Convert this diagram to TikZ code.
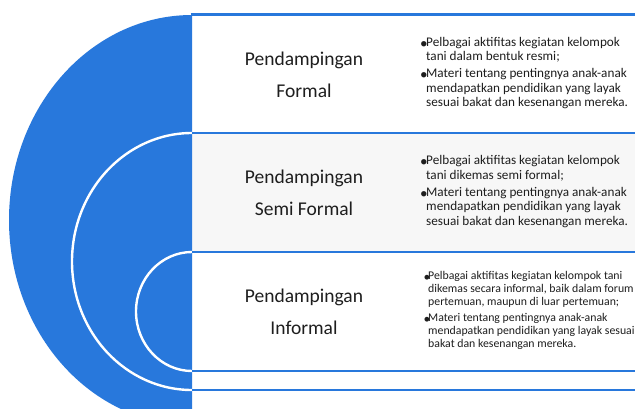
\documentclass[tikz,border=0pt]{standalone}
\usepackage{fontspec}
\setmainfont{Carlito}
\definecolor{band}{HTML}{2878DC}
\definecolor{ink}{HTML}{1E1E1E}
\definecolor{panel}{HTML}{F7F7F7}
\newcommand{\dotmark}{\raisebox{-0.3ex}{\scalebox{1.15}{•}}}
\newcommand{\bul}{\makebox[6pt][l]{\dotmark}}
\newcommand{\cont}{\hspace*{6pt}}
\newcommand{\sbul}{\makebox[4.5pt][l]{\dotmark}}
\newcommand{\scont}{\hspace*{4.5pt}}
\begin{document}
\begin{tikzpicture}[x=1pt,y=-1pt,
  rule/.style={draw=band,line width=2.5pt},
  arcline/.style={draw=white,line width=2.4pt},
  title/.style={font=\fontsize{19.5}{32}\selectfont,text=ink,align=center,inner sep=0pt},
  notes/.style={font=\fontsize{13.2}{14.3}\selectfont,text=ink,align=left,anchor=west,inner sep=0pt},
  smallnotes/.style={notes,font=\fontsize{11.8}{13.1}\selectfont}]
\useasboundingbox (0,0) rectangle (635,408);
\clip (0,0) rectangle (635,408);
% background and middle panel
\fill[white] (0,0) rectangle (635,408);
\fill[panel] (192,133) rectangle (635,252);
% blue half disc on the left
\fill[band] (192,15) arc[start angle=270,end angle=90,x radius=183,y radius=205] -- cycle;
% white nested arcs
\draw[arcline] (192,133) arc[start angle=270,end angle=90,x radius=120,y radius=128.5];
\draw[arcline] (192,252) arc[start angle=270,end angle=90,x radius=56,y radius=59.5];
% horizontal rules of the panels
\draw[band,line width=3pt] (190.5,14.5) -- (640,14.5);
\draw[rule] (192,133) -- (640,133);
\draw[rule] (192,252) -- (640,252);
\draw[rule] (192,371) -- (640,371);
\draw[rule] (192,390) -- (640,390);
% titles
\node[title] (t1) at (304,74.3) {Pendampingan\\Formal};
\node[title] (t2) at (304,192.8) {Pendampingan\\Semi Formal};
\node[title] (t3) at (304,311.8) {Pendampingan\\Informal};
% descriptions
\node[notes] (d1) at (420,73) {\bul Pelbagai aktifitas kegiatan kelompok\\
  \cont tani dalam bentuk resmi;\\[3pt]
  \bul Materi tentang pentingnya anak-anak\\
  \cont mendapatkan pendidikan yang layak\\
  \cont sesuai bakat dan kesenangan mereka.};
\node[notes] (d2) at (420,191.5) {\bul Pelbagai aktifitas kegiatan kelompok\\
  \cont tani dikemas semi formal;\\[3pt]
  \bul Materi tentang pentingnya anak-anak\\
  \cont mendapatkan pendidikan yang layak\\
  \cont sesuai bakat dan kesenangan mereka.};
\node[smallnotes] (d3) at (423.5,310.5) {\sbul Pelbagai aktifitas kegiatan kelompok tani\\
  \scont dikemas secara informal, baik dalam forum\\
  \scont pertemuan, maupun di luar pertemuan;\\[3pt]
  \sbul Materi tentang pentingnya anak-anak\\
  \scont mendapatkan pendidikan yang layak sesuai\\
  \scont bakat dan kesenangan mereka.};
\end{tikzpicture}
\end{document}
